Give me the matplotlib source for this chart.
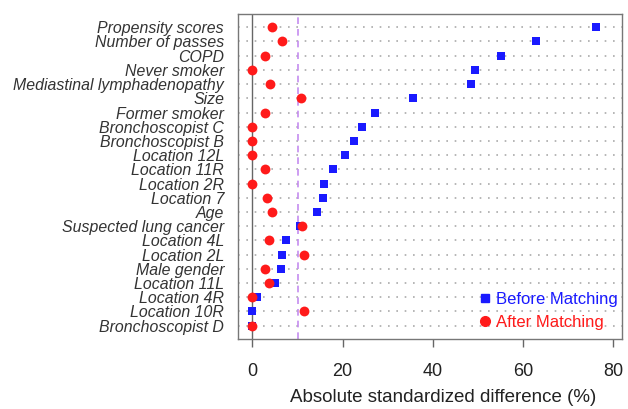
import matplotlib
matplotlib.use("Agg")
import matplotlib.pyplot as plt
from matplotlib.lines import Line2D

categories = ["Propensity scores", "Number of passes", "COPD", "Never smoker",
              "Mediastinal lymphadenopathy", "Size", "Former smoker",
              "Bronchoscopist C", "Bronchoscopist B", "Location 12L", "Location 11R",
              "Location 2R", "Location 7", "Age", "Suspected lung cancer",
              "Location 4L", "Location 2L", "Male gender", "Location 11L",
              "Location 4R", "Location 10R", "Bronchoscopist D"]
before = [76.1, 62.8, 55.1, 49.3, 48.4, 35.5, 27.1, 24.4, 22.5, 20.5, 17.8,
          15.9, 15.7, 14.4, 10.5, 7.4, 6.5, 6.3, 5.0, 1.1, 0.0, 0.0]
after = [4.4, 6.6, 2.7, 0.0, 4.0, 10.8, 2.7, 0.0, 0.0, 0.0, 2.7,
         0.0, 3.2, 4.4, 11.0, 3.7, 11.4, 2.7, 3.7, 0.0, 11.4, 0.0]
xticks = [0, 20, 40, 60, 80]
threshold = 10

plt.rcParams['font.family'] = ['Liberation Sans', 'DejaVu Sans']
fig = plt.figure(figsize=(6.28, 4.09), dpi=100)
ax = fig.add_axes([0.379, 0.171, 0.611, 0.795])

n = len(categories)
ys = list(range(n))
for y in ys:
    ax.axhline(y, color='#aaaaaa', linestyle=(0, (1, 4)), linewidth=1.2, zorder=1)
ax.axvline(0, color='#666666', linewidth=1.0, zorder=2)
ax.axvline(threshold, color='#c58cf0', linestyle=(0, (4, 3)), linewidth=1.2, zorder=2)

ax.scatter(before, ys, marker='s', s=38, color='#1a1aff', zorder=3, linewidths=0)
ax.scatter(after, ys, marker='o', s=50, color='#ff1a1a', zorder=4, linewidths=0)

ax.set_xlim(-3.2, 81.9)
ax.set_ylim(n - 1 + 0.94, -0.94)
ax.set_yticks(ys)
ax.set_yticklabels(categories, style='italic', fontsize=11.4, color='#333333')
ax.tick_params(axis='y', length=0, pad=10)
ax.set_xticks(xticks)
ax.set_xticklabels([str(t) for t in xticks], fontsize=13, color='#222222')
ax.tick_params(axis='x', length=6, width=1, color='#666666', pad=11)
ax.set_xlabel("Absolute standardized difference (%)", fontsize=13.5, color='#222222')
ax.xaxis.set_label_coords(0.534, -0.155)
for s in ax.spines.values():
    s.set_color('#777777')
    s.set_linewidth(1.0)

handles = [Line2D([], [], marker='s', linestyle='', color='#1a1aff', markersize=5.5),
           Line2D([], [], marker='o', linestyle='', color='#ff1a1a', markersize=7)]
leg = ax.legend(handles, ["Before Matching", "After Matching"], loc='lower right',
                bbox_to_anchor=(1.012, 0.003), frameon=False, fontsize=12,
                handletextpad=0.1, handlelength=1.2, labelspacing=0.45, borderaxespad=0.1)
for t, c in zip(leg.get_texts(), ['#1a1aff', '#ff1a1a']):
    t.set_color(c)

fig.savefig("out.png", dpi=100)
